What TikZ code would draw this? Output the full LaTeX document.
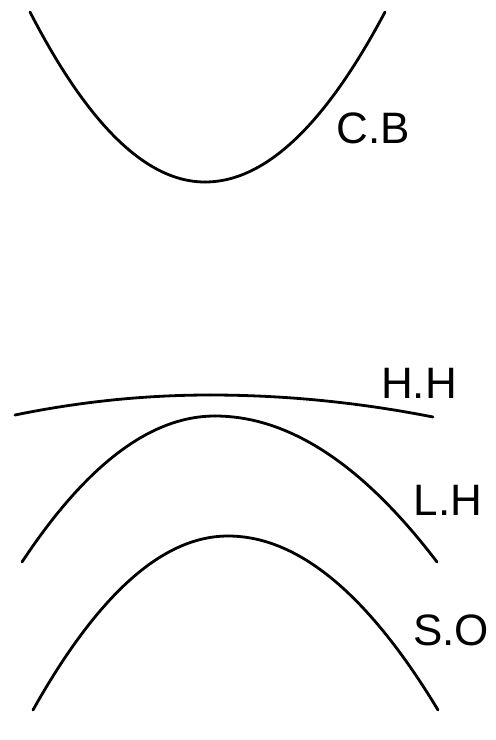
\documentclass[tikz,border=0pt]{standalone}
\usepackage{fontspec}
\setmainfont{Liberation Sans}
\begin{document}
\begin{tikzpicture}[x=1pt,y=-1pt,
  band/.style={line width=2.8pt,black,line cap=round},
  lbl/.style={font=\fontsize{44}{48}\selectfont,inner sep=0pt,anchor=center}]
\useasboundingbox (0,0) rectangle (496,740);
% C.B : opens upward, vertex (205,182)
\draw[band] plot[domain=30:205,samples=60,smooth] (\x,{182-170*((\x-205)/175)^2});
\draw[band] plot[domain=205:385,samples=60,smooth] (\x,{182-170*((\x-205)/180)^2});
% H.H : vertex (210,395)
\draw[band] plot[domain=15:210,samples=60,smooth] (\x,{395+20*((\x-210)/195)^2});
\draw[band] plot[domain=210:433,samples=60,smooth] (\x,{395+22*((\x-210)/223)^2});
% L.H : vertex (215,416)
\draw[band] plot[domain=22:215,samples=60,smooth] (\x,{416+146*((\x-215)/193)^2});
\draw[band] plot[domain=215:437,samples=60,smooth] (\x,{416+146*((\x-215)/222)^2});
% S.O : vertex (228,536)
\draw[band] plot[domain=33:228,samples=60,smooth] (\x,{536+174*((\x-228)/195)^2});
\draw[band] plot[domain=228:438,samples=60,smooth] (\x,{536+174*((\x-228)/210)^2});
\node[lbl] (cb) at (373,128) {C.B};
\node[lbl] (hh) at (419,383) {H.H};
\node[lbl] (lh) at (448,500) {L.H};
\node[lbl] (so) at (451,630) {S.O};
\end{tikzpicture}
\end{document}
